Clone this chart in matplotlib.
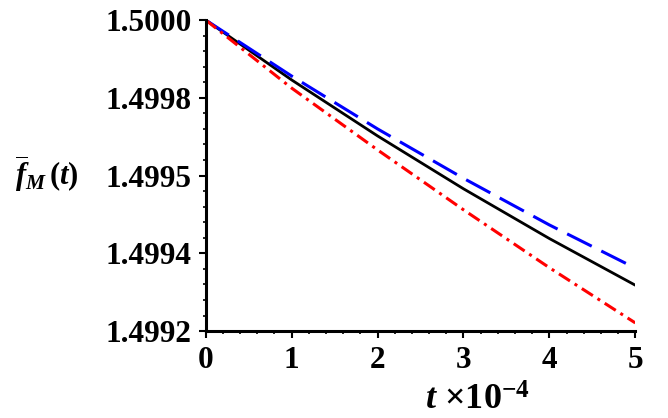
import numpy as np
import matplotlib
matplotlib.use("Agg")
import matplotlib.pyplot as plt
from matplotlib.ticker import AutoMinorLocator

plt.rcParams['font.family'] = ['Liberation Serif', 'DejaVu Serif']
plt.rcParams['mathtext.fontset'] = 'custom'
plt.rcParams['mathtext.rm'] = 'Liberation Serif:bold'
plt.rcParams['mathtext.it'] = 'Liberation Serif:italic:bold'
plt.rcParams['mathtext.bf'] = 'Liberation Serif:bold'

# data (t in units of 1e-4)
t = [0, 1, 2, 3, 4, 5]
f_black = [1.5000, 1.499846, 1.499702, 1.499566, 1.499438, 1.499318]
f_blue = [1.5000, 1.499856, 1.499720, 1.499593, 1.499473, 1.499362]
f_red = [1.5000, 1.499825, 1.499666, 1.499512, 1.499363, 1.499221]

x_ticks = [0, 1, 2, 3, 4, 5]
y_ticks = [1.5000, 1.4998, 1.4996, 1.4994, 1.4992]
y_tick_labels = ['1.5000', '1.4998', '1.4995', '1.4994', '1.4992']

fig = plt.figure(figsize=(6.68, 4.18), dpi=100)
ax = fig.add_axes([0.308, 0.208, 0.643, 0.744])

ax.plot(t, f_black, color='black', lw=2.0, solid_capstyle='round')
ax.plot(t, f_blue, color='#0000ff', lw=2.2, dashes=(9, 3.5))
ax.plot(t, f_red, color='#ff0000', lw=2.2, dashes=(4.3, 1.8, 1.0, 1.8))

ax.set_xlim(0, 5)
ax.set_ylim(1.4992, 1.5000)
ax.set_xticks(x_ticks)
ax.set_xticklabels([str(v) for v in x_ticks])
ax.set_yticks(y_ticks)
ax.set_yticklabels(y_tick_labels)
ax.xaxis.set_minor_locator(AutoMinorLocator(5))
ax.yaxis.set_minor_locator(AutoMinorLocator(5))

for side in ['top', 'right']:
    ax.spines[side].set_visible(False)
for side in ['left', 'bottom']:
    ax.spines[side].set_linewidth(2.2)

ax.tick_params(which='major', direction='out', length=5, width=1.5, labelsize=22.5)
ax.tick_params(axis='y', which='major', pad=5)
ax.tick_params(axis='x', which='major', pad=6)
ax.tick_params(which='minor', direction='out', length=2.5, width=1.2)
for lab in ax.get_xticklabels() + ax.get_yticklabels():
    lab.set_fontweight('bold')

fig.text(0.715, 0.02, r'$t\ \mathrm{\times 10}^{-4}$', fontsize=26, ha='center')
fig.text(0.022, 0.555, r'$\overline{f}_{M}\,(t)$', fontsize=22, ha='left')

fig.savefig('out.png', dpi=100)
